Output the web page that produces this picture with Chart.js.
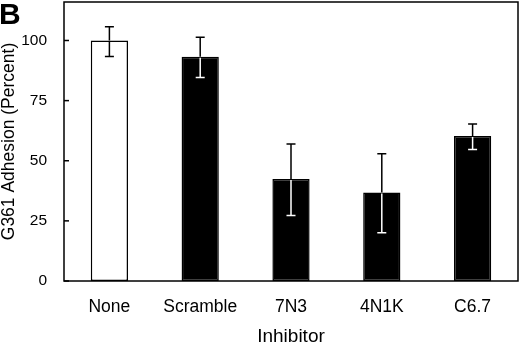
<!DOCTYPE html>
<html lang="en">
<head>
    <meta charset="UTF-8">
    <title>G361 Adhesion</title>
    <script src="https://cdn.jsdelivr.net/npm/chart.js"></script>
    <style>
        body {
            margin: 0;
            background-color: #ffffff;
        }
        #wrap {
            width: 520px;
            height: 344px;
        }
    </style>
</head>
<body>
    <div id="wrap"><canvas id="adhesionChart"></canvas></div>

    <script>
        const inhibitors = ['None', 'Scramble', '7N3', '4N1K', 'C6.7'];
        const adhesion = [100, 93.2, 42.4, 36.8, 60.3];
        const errLow = [93.3, 84.6, 27.2, 20.1, 54.7];
        const errHigh = [105.7, 101.3, 57.0, 52.9, 65.3];
        const barFill = ['#ffffff', '#000000', '#000000', '#000000', '#000000'];
        const yTicks = [0, 25, 50, 75, 100];

        const FONT = "'Liberation Sans', Arial, sans-serif";

        // frame, inward y ticks, error bars and the panel letter
        const extras = {
            id: 'extras',
            afterDatasetsDraw(chart) {
                const ctx = chart.ctx;
                const area = chart.chartArea;
                const x = chart.scales.x;
                const y = chart.scales.y;
                ctx.save();

                ctx.lineWidth = 1.5;
                ctx.strokeStyle = '#000';
                yTicks.forEach(t => {
                    const py = y.getPixelForValue(t);
                    ctx.beginPath();
                    ctx.moveTo(area.left, py);
                    ctx.lineTo(area.left + 5, py);
                    ctx.stroke();
                });

                const cap = 4.5;
                inhibitors.forEach((c, i) => {
                    const px = x.getPixelForValue(i);
                    const top = y.getPixelForValue(errHigh[i]);
                    const bot = y.getPixelForValue(errLow[i]);
                    const barTop = y.getPixelForValue(adhesion[i]);
                    const inner = barFill[i] === '#000000' ? '#ffffff' : '#000000';
                    ctx.lineWidth = 1.5;
                    // whisker above the bar top
                    ctx.strokeStyle = '#000';
                    ctx.beginPath();
                    ctx.moveTo(px, top);
                    ctx.lineTo(px, barTop);
                    ctx.moveTo(px - cap, top);
                    ctx.lineTo(px + cap, top);
                    ctx.stroke();
                    // whisker inside the bar
                    ctx.strokeStyle = inner;
                    ctx.beginPath();
                    ctx.moveTo(px, barTop + 1);
                    ctx.lineTo(px, bot);
                    ctx.moveTo(px - cap, bot);
                    ctx.lineTo(px + cap, bot);
                    ctx.stroke();
                });

                ctx.strokeStyle = '#000';
                ctx.lineWidth = 1.5;
                ctx.strokeRect(area.left, area.top, area.right - area.left, area.bottom - area.top);

                ctx.fillStyle = '#000';
                ctx.font = 'bold 30px ' + FONT;
                ctx.textBaseline = 'top';
                ctx.textAlign = 'left';
                ctx.fillText('B', -1, 1);
                ctx.restore();
            }
        };

        const ctx = document.getElementById('adhesionChart').getContext('2d');
        new Chart(ctx, {
            type: 'bar',
            data: {
                labels: inhibitors,
                datasets: [{
                    data: adhesion,
                    backgroundColor: barFill,
                    borderColor: '#000000',
                    borderWidth: 1.5,
                    borderSkipped: false,
                    barPercentage: 0.41,
                    categoryPercentage: 1.0
                }]
            },
            options: {
                responsive: true,
                maintainAspectRatio: false,
                animation: false,
                layout: { padding: { top: 2, right: 2, left: 0, bottom: 0 } },
                plugins: {
                    legend: { display: false },
                    tooltip: { enabled: false }
                },
                scales: {
                    x: {
                        grid: { display: false, drawTicks: false },
                        border: { display: false },
                        ticks: {
                            color: '#000',
                            padding: 16,
                            font: { family: FONT, size: 17.5 }
                        },
                        title: {
                            display: true,
                            text: 'Inhibitor',
                            color: '#000',
                            padding: { top: 0, bottom: 0 },
                            font: { family: FONT, size: 19, lineHeight: 0.8 }
                        },
                        afterFit(scale) {
                            scale.height = 63;
                            scale.paddingLeft = 0;
                            scale.paddingRight = 0;
                        }
                    },
                    y: {
                        min: 0,
                        max: 116,
                        grid: { display: false, drawTicks: false },
                        border: { display: false },
                        afterBuildTicks(scale) {
                            scale.ticks = yTicks.map(v => ({ value: v }));
                        },
                        ticks: {
                            color: '#000',
                            padding: 17,
                            font: { family: FONT, size: 15.5 }
                        },
                        title: {
                            display: true,
                            text: 'G361 Adhesion (Percent)',
                            color: '#000',
                            padding: { top: 0, bottom: 0 },
                            font: { family: FONT, size: 17.5, lineHeight: 1 }
                        },
                        afterFit(scale) {
                            scale.width = 64;
                            scale.paddingTop = 0;
                            scale.paddingBottom = 0;
                        }
                    }
                }
            },
            plugins: [extras]
        });
    </script>
</body>
</html>
